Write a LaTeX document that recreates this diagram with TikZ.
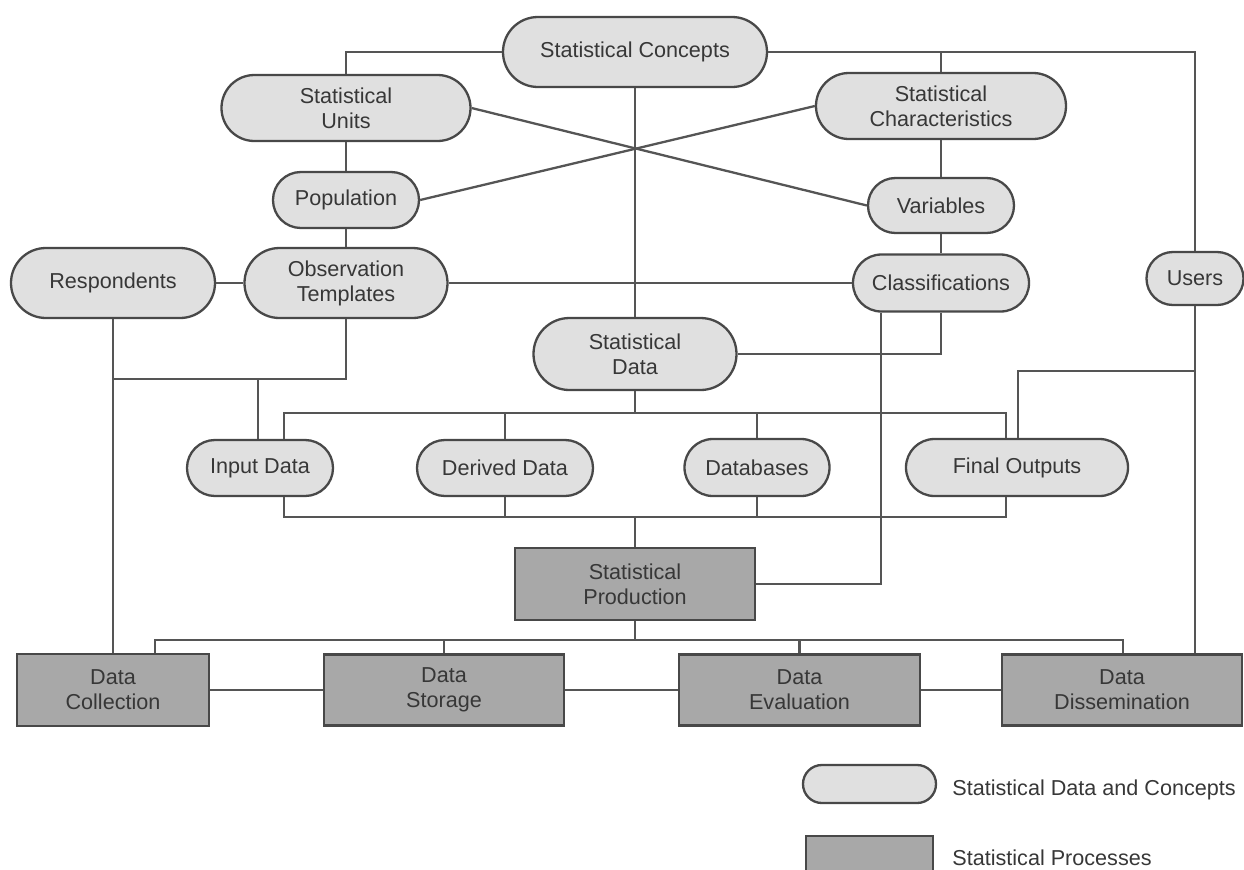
\documentclass[tikz,border=0pt]{standalone}
\usepackage{fontspec}
\setmainfont{Liberation Sans}
\definecolor{lightf}{RGB}{224,224,224}
\definecolor{darkf}{RGB}{168,168,168}
\definecolor{edgec}{RGB}{72,72,72}
\definecolor{linec}{RGB}{85,85,85}
\definecolor{textc}{RGB}{55,55,55}
\begin{document}
\begin{tikzpicture}[x=0.5pt,y=-0.5pt,
  conn/.style={draw=linec, line width=1.15pt},
  base/.style={draw=edgec, line width=1.15pt, text=textc, align=center, inner sep=0pt,
    font=\fontsize{10.8}{12.5}\selectfont},
  rnd/.style 2 args={base, fill=lightf, rectangle, minimum width={#1*0.5pt},
    minimum height={#2*0.5pt}, rounded corners={#2*0.25pt-0.05pt}},
  prc/.style 2 args={base, fill=darkf, rectangle, minimum width={#1*0.5pt},
    minimum height={#2*0.5pt}},
  lbl/.style={anchor=west, text=textc, inner sep=0pt, font=\fontsize{10.8}{12.5}\selectfont}
]
\useasboundingbox (0,0) rectangle (1244,869);
\clip (0,0) rectangle (1244,869);

% data and concepts
\node[rnd={264}{70}] (SC) at (635,52) {Statistical Concepts};
\node[rnd={249}{66}] (SU) at (346,108) {Statistical\\Units};
\node[rnd={250}{66}] (SCh) at (941,106) {Statistical\\Characteristics};
\node[rnd={146}{56}] (Pop) at (346,200) {Population};
\node[rnd={146}{55}] (Var) at (941,205.5) {Variables};
\node[rnd={204}{70}] (Resp) at (113,283) {Respondents};
\node[rnd={203}{70}] (Obs) at (346,283) {Observation\\Templates};
\node[rnd={176}{57}] (Cls) at (941,283) {Classifications};
\node[rnd={97}{53}] (Usr) at (1195,278.5) {Users};
\node[rnd={203}{72}] (SD) at (635,354) {Statistical\\Data};
\node[rnd={146}{56}] (In) at (260,468) {Input Data};
\node[rnd={176}{56}] (Der) at (505,468) {Derived Data};
\node[rnd={145}{57}] (DB) at (757,467.5) {Databases};
\node[rnd={222}{57}] (FO) at (1017,467.5) {Final Outputs};

% processes
\node[prc={240}{72}] (SP) at (635,584) {Statistical\\Production};
\node[prc={192}{72}] (DC) at (113,690) {Data\\Collection};
\node[prc={240}{71}] (DS) at (444,690) {Data\\Storage};
\node[prc={241}{71}] (DE) at (799.5,690) {Data\\Evaluation};
\node[prc={240}{71}] (DD) at (1122,690) {Data\\Dissemination};

% legend
\node[rnd={133}{38}] (L1) at (869.5,784) {};
\node[prc={127}{44}] (L2) at (869.5,858) {};
\node[lbl] (L1t) at (952,790) {Statistical Data and Concepts};
\node[lbl] (L2t) at (952,858) {Statistical Processes};

% helper coordinates
\coordinate (jA) at (113,379);
\coordinate (jB) at (258,379);
\coordinate (tl) at (284,413);
\coordinate (tr) at (1006,413);
\coordinate (bl) at (284,517);
\coordinate (br) at (1006,517);
\coordinate (fo) at (1018,371);
\coordinate (cx) at (881,586);
\coordinate (pl) at (155,640);
\coordinate (pr) at (1123,640);

% connectors
\draw[conn] (SC.west) -| (SU.north);
\draw[conn] (SC.east) -| (Usr.north);
\draw[conn] (SCh.north) -- (SCh.north |- SC.east);
\draw[conn] (SC.south) -- (SD.north);
\draw[conn] (SU.south) -- (Pop.north);
\draw[conn] (Pop.south) -- (Obs.north);
\draw[conn] (SU.east) -- (Var.west);
\draw[conn] (Pop.east) -- (SCh.west);
\draw[conn] (SCh.south) -- (Var.north);
\draw[conn] (Var.south) -- (Cls.north);
\draw[conn] (Resp.east) -- (Obs.west);
\draw[conn] (Obs.east) -- (Cls.west);
\draw[conn] (Cls.south) |- (SD.east);
\draw[conn] (Cls.south -| cx) |- (SP.east);
\draw[conn] (Resp.south) -- (DC.north);
\draw[conn] (Obs.south) |- (jA);
\draw[conn] (jB) -- (jB |- In.north);
\draw[conn] (SD.south) -- (SD.south |- tl);
\draw[conn] (In.north -| tl) -- (tl) -- (tr) -- (FO.north -| tr);
\draw[conn] (Der.north) -- (Der.north |- tl);
\draw[conn] (DB.north) -- (DB.north |- tl);
\draw[conn] (In.south -| bl) -- (bl) -- (br) -- (FO.south -| br);
\draw[conn] (Der.south) -- (Der.south |- bl);
\draw[conn] (DB.south) -- (DB.south |- bl);
\draw[conn] (SP.north) -- (SP.north |- bl);
\draw[conn] (FO.north -| fo) -- (fo) -- (fo -| Usr.south);
\draw[conn] (Usr.south) -- (Usr.south |- DD.north);
\draw[conn] (SP.south) -- (SP.south |- pl);
\draw[conn] (DC.north -| pl) -- (pl) -- (pr) -- (DD.north -| pr);
\draw[conn] (DS.north) -- (DS.north |- pl);
\draw[conn] (DE.north) -- (DE.north |- pl);
\draw[conn] (DC.east) -- (DS.west);
\draw[conn] (DS.east) -- (DE.west);
\draw[conn] (DE.east) -- (DD.west);
\end{tikzpicture}
\end{document}
